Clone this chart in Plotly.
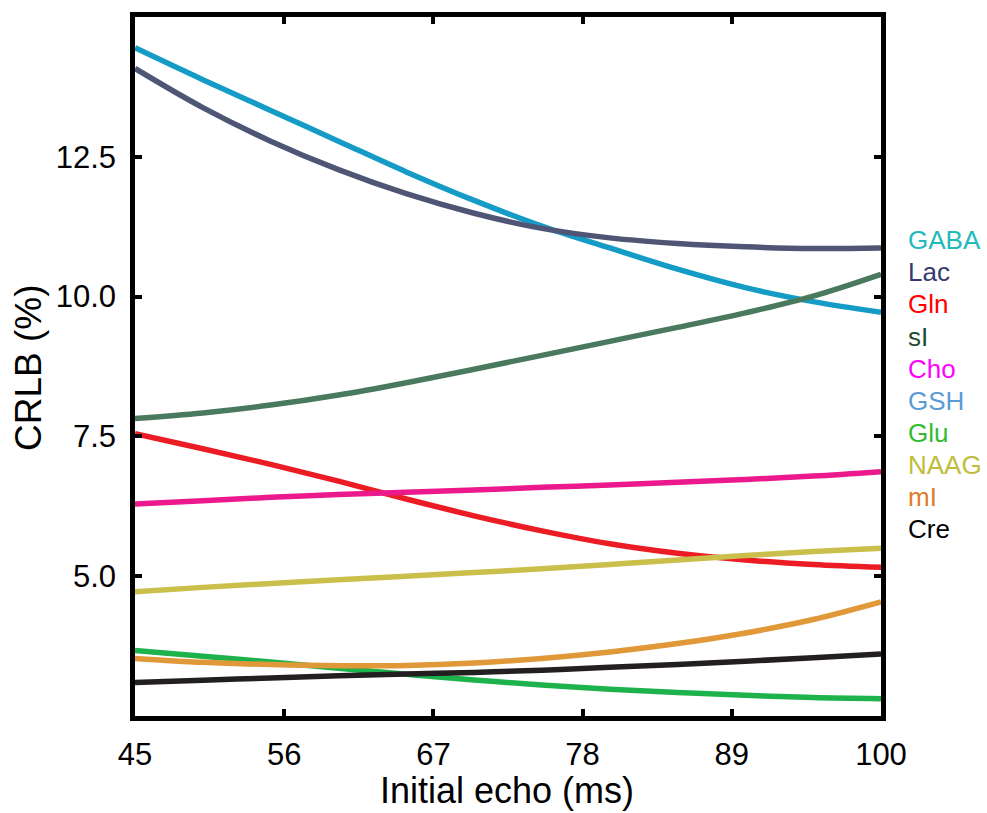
import plotly.graph_objects as go

# Initial echo time (ms)
echo = [45, 50, 55, 60, 65, 70, 75, 80, 85, 90, 95, 100]

# CRLB (%) per metabolite
gaba = [14.45, 13.88, 13.33, 12.78, 12.23, 11.72, 11.26, 10.87, 10.49, 10.16, 9.91, 9.72]
lac  = [14.08, 13.38, 12.78, 12.27, 11.84, 11.49, 11.22, 11.05, 10.95, 10.89, 10.86, 10.87]
gln  = [7.55, 7.28, 7.00, 6.70, 6.38, 6.08, 5.81, 5.58, 5.41, 5.29, 5.21, 5.16]
si   = [7.82, 7.92, 8.06, 8.24, 8.46, 8.70, 8.95, 9.20, 9.45, 9.71, 10.01, 10.40]
cho  = [6.29, 6.35, 6.41, 6.46, 6.50, 6.54, 6.59, 6.63, 6.68, 6.73, 6.79, 6.87]
glu  = [3.67, 3.57, 3.465, 3.355, 3.245, 3.145, 3.055, 2.98, 2.92, 2.87, 2.83, 2.81]
naag = [4.72, 4.80, 4.87, 4.935, 5.00, 5.065, 5.135, 5.21, 5.29, 5.37, 5.44, 5.50]
mi   = [3.53, 3.46, 3.42, 3.40, 3.405, 3.45, 3.53, 3.645, 3.795, 3.985, 4.225, 4.54]
cre  = [3.10, 3.14, 3.18, 3.22, 3.25, 3.28, 3.32, 3.37, 3.42, 3.48, 3.54, 3.61]

series_names = ["GABA", "Lac", "Gln", "sI", "Cho", "Glu", "NAAG", "mI", "Cre"]
series_values = [gaba, lac, gln, si, cho, glu, naag, mi, cre]
line_colors = ["#159cc6", "#4f5675", "#ec1c24", "#4a7a5e", "#ec198d",
               "#1db24b", "#cbbf4c", "#e09838", "#231f20"]

legend_labels = ["GABA", "Lac", "Gln", "sI", "Cho", "GSH", "Glu", "NAAG", "mI", "Cre"]
legend_colors = ["#22baba", "#363a6e", "#ff0000", "#1e4a30", "#ff00ff",
                 "#5b9bd5", "#33bb33", "#c0bd3a", "#e07b28", "#000000"]

x_ticks = [45, 56, 67, 78, 89, 100]
y_ticks = [5.0, 7.5, 10.0, 12.5]
y_ticktext = ["5.0", "7.5", "10.0", "12.5"]

FONT = "Liberation Sans, Arial, sans-serif"

fig = go.Figure()
for name, vals, col in zip(series_names, series_values, line_colors):
    fig.add_trace(go.Scatter(x=echo, y=vals, mode="lines", name=name,
                             line=dict(color=col, width=5.5, shape="spline"),
                             showlegend=False))

# plot area geometry (pixels)
L, R, T, B = 135, 881, 13, 716
W, H = 987, 813
pw, ph = R - L, B - T

annotations = []
for i, (lab, col) in enumerate(zip(legend_labels, legend_colors)):
    py = 237.5 + 32.3 * i
    annotations.append(dict(text=lab, xref="paper", yref="paper",
                            x=(906 - L) / pw, y=(B - py) / ph,
                            xanchor="left", yanchor="middle", showarrow=False,
                            font=dict(family=FONT, size=26, color=col)))

annotations.append(dict(text="Initial echo (ms)", xref="paper", yref="paper",
                        x=(507 - L) / pw, y=(B - 791) / ph,
                        xanchor="center", yanchor="middle", showarrow=False,
                        font=dict(family=FONT, size=36, color="black")))
annotations.append(dict(text="CRLB (%)", xref="paper", yref="paper",
                        x=(29 - L) / pw, y=(B - 365) / ph, textangle=-90,
                        xanchor="center", yanchor="middle", showarrow=False,
                        font=dict(family=FONT, size=37, color="black")))

axis_common = dict(showline=True, linecolor="black", linewidth=4.5, mirror="ticks",
                   ticks="inside", ticklen=7, tickwidth=4, tickcolor="black",
                   showgrid=False, zeroline=False,
                   tickfont=dict(family=FONT, size=31, color="black"))

fig.update_layout(
    width=W, height=H,
    margin=dict(l=L, r=W - R, t=T, b=H - B, pad=0),
    paper_bgcolor="white", plot_bgcolor="white",
    xaxis=dict(range=[45, 100], tickvals=x_ticks, ticklabelstandoff=7, **axis_common),
    yaxis=dict(range=[2.5, 15], tickvals=y_ticks, ticktext=y_ticktext,
               ticklabelstandoff=8, **axis_common),
    annotations=annotations,
)

fig.write_html("out.html")
